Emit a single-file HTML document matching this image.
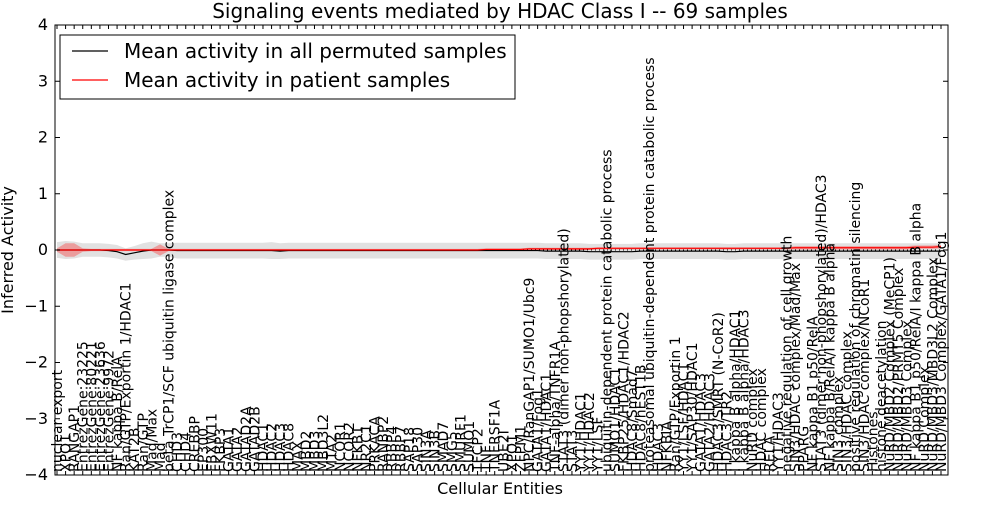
<!DOCTYPE html>
<html><head><meta charset="utf-8"><style>
body{margin:0;background:#fff;}
svg text{font-family:"DejaVu Sans","Liberation Sans",sans-serif;}
</style></head><body>
<svg id="chart" width="1000" height="500" xmlns="http://www.w3.org/2000/svg">
<rect x="0" y="0" width="1000" height="500" fill="#fff"/>
<text x="500" y="18" text-anchor="middle" font-size="20">Signaling events mediated by HDAC Class I -- 69 samples</text>
<text transform="translate(13,250) rotate(-90)" text-anchor="middle" font-size="16">Inferred Activity</text>
<text x="500" y="494" text-anchor="middle" font-size="16">Cellular Entities</text>
<g id="plot"></g>
<rect x="55" y="25" width="893" height="450" fill="none" stroke="#000" stroke-width="1"/>
<g>
<rect x="60" y="35" width="455" height="64" fill="#fff" stroke="#000"/>
<line x1="72" y1="51" x2="108" y2="51" stroke="#000" stroke-width="1.2"/>
<text x="124" y="58" font-size="20">Mean activity in all permuted samples</text>
<line x1="72" y1="80" x2="108" y2="80" stroke="#f00" stroke-width="1.2"/>
<text x="124" y="87" font-size="20">Mean activity in patient samples</text>
</g>
</svg>
<script>
const labels=["nuclear export","XPO1","RANGAP1","EntrezGene:23225","EntrezGene:80221","EntrezGene:23636","EntrezGene:9972","NF kappa B/RelA","Ran/GTP/Exportin 1/HDAC1","KAT2B","Ran/GTP","Mad/Max","Mad","beta TrCP1/SCF ubiquitin ligase complex","CHD3","CHD4","CREBBP","EP300","FBXW11","FKBP3","GATA1","GATA2","GATAD2A","GATAD2B","HDAC1","HDAC2","HDAC3","HDAC8","MAX","MBD2","MBD3","MBD3L2","MTA2","NCOR1","NCOR2","NFKB1","NR2C1","PRKACA","RANBP2","RBBP4","RBBP7","SAP18","SAP30","SIN3A","SIN3B","SMAD7","SMG5","SMURF1","SUMO1","TFCP2","TNF","TNFRSF1A","UBE2I","XPO1","ZFPM1","NPC/RanGAP1/SUMO1/Ubc9","GATA1/Fog1","GATA1/HDAC1","TNF-alpha/TNFR1A","STAT3 (dimer non-phopshorylated)","STAT3","YY1/HDAC1","YY1/HDAC2","YY1/LSF","ubiquitin-dependent protein catabolic process","SUMO1/HDAC1","FKBP25/HDAC1/HDAC2","HDAC8/Smad7","HDAC8/hEST1B","proteasomal ubiquitin-dependent protein catabolic process","HDAC3","NFKBIA","Ran/GTP/Exportin 1","YY1/LSF/HDAC1","YY1/SAP30/HDAC1","GATA1/HDAC3","GATA2/HDAC3","HDAC3/SMRT (N-CoR2)","HDAC3/TR2","I kappa B alpha/HDAC1","I kappa B alpha/HDAC3","NuRD complex","HDAC complex","RELA","YY1/HDAC3","negative regulation of cell growth","SIN3/HDAC complex/Mad/Max","PPARG","NF kappa B1 p50/RelA","STAT3 (dimer non-phopshorylated)/HDAC3","NF kappa B/RelA/I kappa B alpha","SIN3 complex","SIN3/HDAC complex","positive regulation of chromatin silencing","SIN3/HDAC complex/NCoR1","Histones","histone deacetylation","NuRD/MBD2 Complex (MeCP1)","NuRD/MBD2/PRMT5 Complex","NuRD/MBD3 Complex","NF kappa B1 p50/RelA/I kappa B alpha","NuRD Complex","NuRD/MBD3/MBD3L2 Complex","NuRD/MBD3 Complex/GATA1/Fog1"];
const permMean=[0,0,0,0,0,0,-0.01,-0.03,-0.08,-0.05,
-0.02,0,0,0,-0.01,-0.01,-0.01,-0.01,-0.01,-0.01,
-0.01,-0.01,-0.01,-0.01,-0.01,-0.01,-0.02,-0.01,-0.01,-0.01,
-0.01,-0.01,-0.01,-0.01,-0.01,-0.01,-0.01,-0.01,-0.01,-0.01,
-0.01,-0.01,-0.01,-0.01,-0.01,-0.01,-0.01,-0.01,-0.01,-0.01,
-0.01,-0.01,-0.01,-0.01,-0.01,-0.01,-0.01,-0.02,-0.02,-0.02,
-0.02,-0.02,-0.03,-0.03,-0.03,-0.03,-0.03,-0.03,-0.02,-0.02,
-0.02,-0.02,-0.02,-0.02,-0.02,-0.02,-0.02,-0.02,-0.03,-0.03,
-0.02,-0.02,-0.02,-0.02,-0.02,-0.02,-0.02,-0.02,-0.02,-0.02,
-0.02,-0.02,-0.02,-0.02,-0.02,-0.02,-0.02,-0.02,-0.02,-0.02,
-0.02,-0.02,-0.02,-0.02];
const patientMean=[0,0,0,0,0,0,0,0,0,0,
0,0,0,0,0,0,0,0,0,0,
0,0,0,0,0,0,0,0,0,0,
0,0,0,0,0,0,0,0,0,0,
0,0,0,0,0,0,0,0,0,0,
0.01,0.01,0.01,0.01,0.01,0.02,0.02,0.02,0.02,0.02,
0.02,0.02,0.02,0.03,0.03,0.03,0.03,0.03,0.03,0.03,
0.03,0.03,0.03,0.03,0.03,0.03,0.03,0.03,0.03,0.03,
0.03,0.03,0.03,0.03,0.03,0.03,0.04,0.04,0.04,0.04,
0.04,0.04,0.04,0.04,0.04,0.04,0.04,0.04,0.04,0.04,
0.05,0.05,0.05,0.06];
const permStd=[0.14,0.16,0.15,0.12,0.12,0.12,0.12,0.12,0.11,0.12,
0.14,0.15,0.12,0.12,0.14,0.14,0.14,0.14,0.14,0.14,
0.14,0.14,0.14,0.14,0.14,0.15,0.14,0.14,0.14,0.14,
0.14,0.14,0.14,0.14,0.14,0.14,0.14,0.14,0.14,0.14,
0.14,0.14,0.14,0.14,0.14,0.14,0.14,0.14,0.14,0.14,
0.14,0.14,0.14,0.14,0.14,0.14,0.14,0.14,0.14,0.14,
0.14,0.14,0.14,0.14,0.14,0.14,0.14,0.14,0.14,0.14,
0.14,0.14,0.14,0.14,0.14,0.14,0.14,0.14,0.14,0.14,
0.14,0.14,0.14,0.14,0.14,0.14,0.14,0.14,0.14,0.14,
0.14,0.14,0.14,0.14,0.14,0.14,0.14,0.14,0.14,0.14,
0.14,0.14,0.14,0.14];
const patientStd=[0.03,0.12,0.12,0.03,0.02,0.02,0.02,0.02,0.02,0.02,
0.02,0.02,0.1,0.02,0.02,0.02,0.02,0.02,0.02,0.02,
0.02,0.02,0.02,0.02,0.02,0.02,0.02,0.02,0.02,0.02,
0.02,0.02,0.02,0.02,0.02,0.02,0.02,0.02,0.02,0.02,
0.02,0.02,0.02,0.02,0.02,0.02,0.02,0.02,0.02,0.02,
0.02,0.02,0.02,0.02,0.02,0.02,0.02,0.02,0.02,0.02,
0.02,0.02,0.02,0.02,0.02,0.02,0.02,0.02,0.02,0.02,
0.02,0.02,0.02,0.02,0.02,0.02,0.02,0.02,0.02,0.02,
0.02,0.02,0.02,0.02,0.02,0.02,0.03,0.03,0.03,0.03,
0.03,0.03,0.03,0.03,0.03,0.03,0.03,0.03,0.03,0.03,
0.03,0.03,0.03,0.03];
const yTicks=[-4,-3,-2,-1,0,1,2,3,4];

const NS='http://www.w3.org/2000/svg';
const plot=document.getElementById('plot');
const X0=57,X1=941,Y0=250,YS=56.25;
const xs=i=>X0+i*(X1-X0)/(labels.length-1);
const ys=v=>Y0-v*YS;
function mk(tag,attrs,parent){const e=document.createElementNS(NS,tag);for(const k in attrs)e.setAttribute(k,attrs[k]);(parent||plot).appendChild(e);return e;}
function band(mean,std){let up=mean.map((m,i)=>xs(i)+','+ys(m+std[i]));let dn=mean.map((m,i)=>xs(i)+','+ys(m-std[i])).reverse();return up.concat(dn).join(' ');}
function line(mean){return mean.map((m,i)=>xs(i)+','+ys(m)).join(' ');}

const pb=mk('polygon',{points:band(permMean,permStd),fill:'#d9d9d9','fill-opacity':'0.8',stroke:'none'});


const rb=mk('polygon',{points:band(patientMean,patientStd),fill:'#f08080','fill-opacity':'0.7',stroke:'none'});


const zl=mk('line',{x1:55,x2:948,y1:ys(0),y2:ys(0),stroke:'#000','stroke-dasharray':'1,3','stroke-width':1});


const bl=mk('polyline',{points:line(permMean),fill:'none',stroke:'#000','stroke-width':1.2});


const rl=mk('polyline',{points:line(patientMean),fill:'none',stroke:'#f00','stroke-width':1.2});



yTicks.forEach(t=>{
  const y=ys(t);
  const tk=mk('path',{d:`M55,${y}h5M948,${y}h-5`,stroke:'#000'});
  
  
  const tl=mk('text',{x:48,y:y+5,'text-anchor':'end','font-size':16});
  tl.textContent=t<0?'\u2212'+Math.abs(t):String(t);
  
  
});
labels.forEach((l,i)=>{
  const x=xs(i);
  const tk=mk('path',{d:`M${x},475v-4M${x},25v4`,stroke:'#000'});
  
  
  const t=mk('text',{transform:`translate(${x+5},472) rotate(-90)`,'font-size':14});
  t.textContent=l;
  
  
});
</script>
</body></html>
